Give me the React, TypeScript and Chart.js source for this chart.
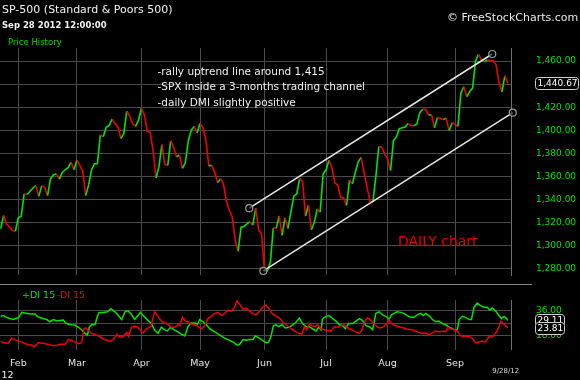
import React, { useEffect, useRef } from 'react';
import { Chart, registerables } from 'chart.js';

Chart.register(...registerables);

const FONT = '"DejaVu Sans", Verdana, sans-serif';
const UP = '#00e400';
const DOWN = '#f00000';
const GRID = '#4a4a4a';
const AXIS = '#707070';

// ---------- data ----------
const titleText = 'SP-500 (Standard & Poors 500)';
const dateText = 'Sep 28 2012 12:00:00';
const panelText = 'Price History';
const creditText = '\u00A9 FreeStockCharts.com';
const noteLines = [
  '-rally uptrend line around 1,415',
  '-SPX inside a 3-months trading channel',
  '-daily DMI slightly positive',
];
const chartTag = 'DAILY chart';
const lastDateLabel = '9/28/12';
const yearLabel = '12';

const monthLabels = ['Feb', 'Mar', 'Apr', 'May', 'Jun', 'Jul', 'Aug', 'Sep'];
const monthStartDay = [6, 26, 48, 68, 90, 111, 132, 155];

const priceTicks = [1280, 1300, 1320, 1340, 1360, 1380, 1400, 1420, 1440, 1460];
const dmiTicks = [18, 27, 36];

// daily closes, Jan 24 2012 .. Sep 28 2012 (index = trading day)
const closes = [
  1314.65, 1326.06, 1318.43, 1316.33, 1313.01, 1312.41,
  1324.09, 1325.54, 1344.90, 1344.33, 1347.05, 1349.96, 1351.95, 1342.64, 1351.77, 1350.50,
  1343.23, 1358.04, 1361.23, 1362.21, 1357.66, 1363.46, 1365.74, 1367.59, 1372.18, 1365.68,
  1374.09, 1369.63, 1364.33, 1343.36, 1352.63, 1365.91, 1370.87, 1371.09, 1395.95, 1394.28,
  1402.60, 1404.17, 1409.75, 1405.52, 1402.89, 1392.78, 1397.11, 1416.51, 1412.52, 1405.54,
  1403.28, 1408.47,
  1419.04, 1413.38, 1398.96, 1398.08, 1382.20, 1358.59, 1368.71, 1387.57, 1370.26, 1369.57,
  1390.78, 1385.14, 1376.92, 1378.53, 1366.94, 1371.97, 1390.69, 1399.98, 1403.36, 1397.91,
  1405.82, 1402.31, 1391.57, 1369.10, 1369.58, 1363.72, 1354.58, 1357.99, 1353.39, 1338.35,
  1330.66, 1324.80, 1304.86, 1295.22, 1315.99, 1316.63, 1318.86, 1320.68, 1317.82, 1332.42,
  1313.32, 1310.33,
  1278.04, 1278.18, 1285.50, 1315.13, 1314.99, 1325.66, 1308.93, 1324.18, 1314.88, 1329.10,
  1342.84, 1344.78, 1357.98, 1355.69, 1325.51, 1335.02, 1313.72, 1319.99, 1331.85, 1329.04,
  1362.16,
  1365.51, 1374.02, 1367.58, 1354.68, 1352.46, 1341.47, 1341.45, 1334.76, 1356.78, 1353.64,
  1363.67, 1372.78, 1376.51, 1362.66, 1350.52, 1338.31, 1337.89, 1360.02, 1385.97, 1385.30,
  1379.32,
  1375.32, 1365.00, 1390.99, 1394.23, 1401.35, 1402.22, 1402.80, 1405.87, 1404.11, 1403.93,
  1405.53, 1415.51, 1418.16, 1418.13, 1413.17, 1413.49, 1402.08, 1411.13, 1410.44, 1409.30,
  1410.49, 1399.48, 1406.58,
  1404.94, 1403.44, 1432.12, 1437.92, 1429.08, 1433.56, 1436.56, 1459.99, 1465.77, 1461.19,
  1459.32, 1461.05, 1460.26, 1460.15, 1456.89, 1441.59, 1433.32, 1447.15, 1440.67,
];

const upperChannelDay = [84.8, 167.7];
const upperChannelValue = [1332.4, 1466.1];
const lowerChannelDay = [89.6, 174.7];
const lowerChannelValue = [1278.0, 1415.2];

const plusDay = [
  0, 0.9, 2.0, 3.2, 4.3, 5.4, 6.0, 7.2, 8.3, 10.0,
  11.7, 12.8, 14.5, 15.7, 16.8, 18.0, 19.1, 20.2, 21.4, 22.0,
  23.1, 24.2, 25.3, 26.5, 27.6, 28.8, 29.6, 30.2, 31.0, 32.2,
  33.0, 33.6, 35.0, 36.4, 37.6, 39.0, 40.1, 41.3, 42.4, 43.4,
  44.6, 45.7, 46.8, 47.7, 48.9, 50.3, 51.4, 52.5, 53.7, 54.8,
  55.9, 56.8, 58.0, 59.1, 60.5, 61.6, 62.8, 63.9, 65.0, 66.2,
  67.1, 67.9, 69.0, 70.2, 71.3, 73.0, 74.7, 76.4, 78.1, 79.3,
  80.7, 81.5, 82.7, 83.8, 84.9, 86.1, 86.9, 88.2, 89.4, 90.5,
  91.4, 92.2, 93.0, 93.9, 94.8, 96.0, 97.1, 98.5, 99.6, 100.7,
  101.9, 103.0, 104.2, 105.3, 106.4, 107.6, 108.5, 109.3, 109.8, 111.0,
  112.1, 113.3, 114.4, 115.5, 116.7, 117.6, 118.7, 120.1, 121.2, 122.4,
  123.5, 124.6, 125.8, 126.9, 128.0, 129.2, 130.3, 131.9, 132.5, 133.3,
  134.2, 135.3, 136.5, 137.6, 138.7, 139.9, 141.0, 142.1, 143.3, 144.2,
  145.0, 146.1, 147.3, 148.4, 149.5, 150.7, 151.8, 153.0, 154.1, 155.2,
  155.8, 156.4, 157.5, 158.6, 159.8, 160.6, 161.5, 162.6, 163.7, 164.9,
  166.0, 166.9, 167.7, 168.9, 170.0, 170.8, 171.7, 172.6, 173,
];
const plusDI = [
  32.0, 32.6, 31.3, 30.4, 29.7, 30.8, 30.8, 34.9, 34.4, 33.8,
  33.8, 31.5, 30.4, 29.7, 28.1, 29.7, 28.6, 29.0, 29.3, 27.5,
  26.3, 25.9, 25.7, 24.1, 22.3, 19.6, 18.5, 24.1, 25.9, 26.3,
  32.0, 34.9, 34.9, 35.3, 37.6, 35.3, 32.6, 29.7, 35.3, 36.0,
  33.5, 29.7, 32.6, 34.9, 32.0, 29.0, 26.8, 21.8, 19.6, 24.1,
  22.3, 21.4, 24.1, 22.3, 20.7, 19.1, 17.8, 24.5, 27.2, 27.2,
  26.3, 29.7, 28.1, 25.9, 23.0, 20.7, 18.5, 16.2, 14.6, 13.3,
  11.0, 11.7, 15.1, 14.6, 15.1, 15.1, 17.8, 16.2, 14.6, 12.8,
  13.3, 17.3, 25.2, 25.9, 24.5, 25.9, 23.6, 24.1, 25.9, 27.5,
  30.8, 26.8, 24.5, 24.5, 23.0, 21.4, 24.1, 22.3, 30.4, 32.0,
  32.6, 30.4, 28.6, 25.9, 25.2, 23.0, 26.8, 26.8, 28.6, 30.4,
  29.0, 25.2, 24.5, 22.3, 34.2, 35.3, 33.0, 31.3, 29.7, 33.1,
  34.2, 35.3, 34.9, 34.2, 32.6, 31.3, 31.3, 33.1, 34.2, 32.6,
  34.2, 32.6, 29.7, 28.1, 28.6, 26.8, 25.9, 24.1, 23.0, 21.8,
  22.3, 29.7, 32.0, 31.3, 29.7, 29.7, 38.7, 41.6, 39.8, 38.7,
  38.7, 36.5, 38.0, 35.8, 32.6, 30.4, 32.0, 30.4, 29.11,
];

const minusDay = [
  0, 0.9, 2.6, 3.7, 4.9, 6.0, 7.2, 8.9, 10.6, 11.7,
  12.8, 14.5, 16.3, 18.0, 19.1, 20.2, 22.0, 23.1, 24.2, 25.3,
  26.5, 27.6, 28.4, 29.1, 29.9, 31.0, 32.7, 33.9, 35.0, 36.2,
  37.3, 38.4, 39.6, 40.7, 41.8, 43.0, 43.6, 44.6, 45.7, 46.8,
  48.5, 49.7, 51.2, 52.5, 53.7, 54.8, 55.9, 57.1, 58.2, 59.4,
  60.3, 61.1, 62.0, 63.0, 63.9, 65.0, 66.2, 67.3, 68.5, 69.6,
  70.7, 71.9, 73.0, 74.1, 75.3, 76.4, 77.5, 78.7, 79.8, 80.6,
  81.5, 82.7, 83.8, 84.9, 86.4, 87.1, 88.2, 89.4, 90.5, 91.6,
  92.8, 93.9, 95.1, 96.2, 97.3, 98.5, 99.6, 100.7, 101.9, 102.8,
  103.6, 104.4, 105.3, 106.2, 107.3, 108.1, 109.3, 110.4, 111.6, 112.7,
  113.8, 115.0, 116.1, 117.2, 118.0, 118.9, 120.1, 121.2, 122.4, 123.3,
  124.1, 124.9, 125.8, 126.9, 128.0, 129.2, 130.3, 131.9, 132.5, 133.3,
  134.7, 136.5, 137.6, 138.7, 140.4, 142.1, 143.8, 145.0, 146.1, 147.3,
  148.4, 149.5, 150.7, 151.8, 152.6, 153.5, 154.7, 155.8, 156.9, 158.1,
  159.8, 160.9, 162.0, 163.2, 164.3, 165.4, 166.6, 167.7, 168.9, 170.0,
  170.6, 171.5, 172.6, 173,
];
const minusDI = [
  14.0, 12.8, 12.4, 16.2, 15.1, 14.0, 13.3, 11.7, 11.0, 10.1,
  12.8, 12.4, 11.5, 10.6, 11.0, 11.7, 11.7, 15.1, 14.6, 13.3,
  12.1, 12.8, 23.0, 23.6, 21.8, 19.6, 18.5, 17.3, 15.5, 14.6,
  14.0, 15.1, 18.9, 16.9, 17.3, 20.3, 17.5, 24.1, 25.0, 24.1,
  20.0, 23.0, 24.5, 35.3, 32.0, 28.6, 27.2, 26.3, 24.1, 24.1,
  25.9, 25.2, 31.3, 28.6, 28.1, 26.3, 25.9, 24.8, 23.0, 25.2,
  30.4, 32.0, 34.2, 34.9, 32.6, 34.2, 36.5, 35.8, 38.7, 43.2,
  41.0, 37.1, 38.0, 35.8, 33.5, 33.1, 35.3, 38.7, 40.3, 37.6,
  33.5, 32.6, 30.8, 28.1, 25.9, 24.1, 22.3, 20.7, 19.6, 19.1,
  24.5, 22.3, 26.3, 25.2, 24.5, 25.9, 23.0, 22.3, 21.8, 21.4,
  24.5, 24.1, 25.2, 25.9, 24.1, 23.0, 21.8, 20.7, 19.6, 22.3,
  27.5, 30.8, 30.4, 27.5, 25.2, 23.6, 24.1, 26.8, 29.7, 26.8,
  25.2, 24.1, 23.6, 22.7, 22.3, 20.7, 19.6, 20.0, 18.5, 20.0,
  21.4, 20.7, 21.4, 20.7, 24.1, 23.0, 22.3, 21.4, 17.8, 17.3,
  17.3, 16.2, 12.8, 13.3, 14.0, 13.3, 17.3, 16.9, 20.0, 24.1,
  28.6, 26.8, 24.5, 23.81,
];

// ---------- helpers ----------
const X_MIN = -0.24;
const X_MAX = 174.1;

const fmtPrice = (v: number) =>
  Number(v).toLocaleString('en-US', { minimumFractionDigits: 2, maximumFractionDigits: 2 });

const pairs = (xs: number[], ys: number[]) => xs.map((x, i) => ({ x, y: ys[i] }));

const dirColor = (ctx: any) => (ctx.p1.parsed.y >= ctx.p0.parsed.y ? UP : DOWN);

function valueBox(ctx: CanvasRenderingContext2D, x: number, y: number, w: number, text: string) {
  const h = 12;
  const top = Math.round(y - h / 2) + 0.5;
  ctx.beginPath();
  (ctx as any).roundRect(x + 0.5, top, w, h, 3);
  ctx.fillStyle = '#000';
  ctx.fill();
  ctx.strokeStyle = '#cfcfcf';
  ctx.lineWidth = 1;
  ctx.stroke();
  ctx.fillStyle = '#ffffff';
  ctx.font = `9px ${FONT}`;
  ctx.textBaseline = 'middle';
  ctx.textAlign = 'left';
  ctx.fillText(text, x + 2.5, top + h / 2 + 0.5);
}

const priceDecor = {
  id: 'priceDecor',
  afterDraw(chart: any) {
    const { ctx, scales } = chart;
    ctx.save();
    ctx.textAlign = 'left';
    ctx.textBaseline = 'alphabetic';

    ctx.fillStyle = '#f2f2f2';
    ctx.font = `11px ${FONT}`;
    ctx.fillText(titleText, 2, 12.5);
    ctx.font = `bold 8.5px ${FONT}`;
    ctx.fillText(dateText, 2, 28.3);
    ctx.font = `11px ${FONT}`;
    ctx.fillStyle = '#e8e8e8';
    ctx.fillText(creditText, 447, 20.5);
    ctx.fillStyle = '#00dd00';
    ctx.font = `8.5px ${FONT}`;
    ctx.fillText(panelText, 8, 44.8);

    ctx.fillStyle = '#f0f0f0';
    ctx.font = `10.5px ${FONT}`;
    const baselines = [75, 90.3, 105.5];
    noteLines.forEach((t, i) => ctx.fillText(t, 157.5, baselines[i]));

    ctx.fillStyle = '#e80000';
    ctx.font = `14px ${FONT}`;
    ctx.fillText(chartTag, 398, 245.5);

    // separator between the two panels
    ctx.strokeStyle = '#858585';
    ctx.lineWidth = 1;
    ctx.beginPath();
    ctx.moveTo(0, 284.5);
    ctx.lineTo(532, 284.5);
    ctx.stroke();

    const last = closes[closes.length - 1];
    valueBox(ctx, 535, scales.y.getPixelForValue(last), 43, fmtPrice(last));
    ctx.restore();
  },
};

const dmiDecor = {
  id: 'dmiDecor',
  afterDraw(chart: any) {
    const { ctx, scales } = chart;
    ctx.save();
    ctx.textAlign = 'left';
    ctx.textBaseline = 'alphabetic';
    ctx.font = `9.5px ${FONT}`;
    ctx.fillStyle = UP;
    ctx.fillText('+DI 15', 22, 297.5);
    ctx.fillStyle = DOWN;
    ctx.fillText('-DI 15', 56.5, 297.5);

    ctx.fillStyle = '#d8d8d8';
    ctx.font = `7px ${FONT}`;
    ctx.textAlign = 'center';
    ctx.fillText(lastDateLabel, scales.x.getPixelForValue(closes.length - 1) - 2, 372.5);
    ctx.textAlign = 'left';
    ctx.fillStyle = '#f0f0f0';
    ctx.font = `9.5px ${FONT}`;
    ctx.fillText(yearLabel, 1.5, 378);

    const p = plusDI[plusDI.length - 1];
    const m = minusDI[minusDI.length - 1];
    valueBox(ctx, 535, scales.y.getPixelForValue(p), 29, p.toFixed(2));
    valueBox(ctx, 535, scales.y.getPixelForValue(m), 29, m.toFixed(2));
    ctx.restore();
  },
};

const xScaleBase = (showLabels: boolean, height: number) => ({
  type: 'linear' as const,
  min: X_MIN,
  max: X_MAX,
  bounds: 'data' as const,
  grid: { color: GRID, drawTicks: false, lineWidth: 1 },
  border: { display: false },
  ticks: {
    display: showLabels,
    autoSkip: false,
    maxRotation: 0,
    color: '#e6e6e6',
    padding: 8,
    font: { family: FONT, size: 9.5 },
    callback: (_v: any, i: number) => monthLabels[i],
  },
  afterBuildTicks: (s: any) => {
    s.ticks = monthStartDay.map((v) => ({ value: v }));
  },
  afterFit: (s: any) => {
    s.height = height;
  },
});

export default function App() {
  const priceRef = useRef<HTMLCanvasElement>(null);
  const dmiRef = useRef<HTMLCanvasElement>(null);

  useEffect(() => {
    const priceChart = new Chart(priceRef.current as HTMLCanvasElement, {
      type: 'line',
      data: {
        datasets: [
          {
            data: pairs(closes.map((_, i) => i), closes),
            borderWidth: 1.6,
            borderColor: UP,
            segment: { borderColor: dirColor },
            pointRadius: 0,
            tension: 0,
            order: 2,
          },
          {
            data: pairs(upperChannelDay, upperChannelValue),
            borderColor: '#e6e6e6',
            borderWidth: 1.5,
            pointRadius: 3.5,
            pointBorderWidth: 1.2,
            pointBorderColor: '#9a9a9a',
            pointBackgroundColor: 'rgba(0,0,0,0.6)',
            tension: 0,
            clip: false as any,
            order: 1,
          },
          {
            data: pairs(lowerChannelDay, lowerChannelValue),
            borderColor: '#e6e6e6',
            borderWidth: 1.5,
            pointRadius: 3.5,
            pointBorderWidth: 1.2,
            pointBorderColor: '#9a9a9a',
            pointBackgroundColor: 'rgba(0,0,0,0.6)',
            tension: 0,
            clip: false as any,
            order: 1,
          },
        ],
      },
      options: {
        animation: false,
        responsive: false,
        devicePixelRatio: 1,
        events: [],
        layout: { autoPadding: false, padding: { top: 48, left: 0, right: 0, bottom: 105 } },
        plugins: { legend: { display: false }, tooltip: { enabled: false }, title: { display: false } },
        scales: {
          x: xScaleBase(false, 0) as any,
          y: {
            type: 'linear',
            position: 'right',
            min: 1274.5,
            max: 1471.3,
            bounds: 'data',
            grid: { color: GRID, drawTicks: false },
            border: { display: true, color: AXIS },
            ticks: {
              color: UP,
              padding: 25,
              font: { family: FONT, size: 9 },
              callback: (v: any) => fmtPrice(Number(v)),
            },
            afterBuildTicks: (s: any) => {
              s.ticks = priceTicks.map((v) => ({ value: v }));
            },
            afterFit: (s: any) => {
              s.width = 69;
            },
          } as any,
        },
      },
      plugins: [priceDecor],
    });

    const dmiChart = new Chart(dmiRef.current as HTMLCanvasElement, {
      type: 'line',
      data: {
        datasets: [
          {
            data: pairs(minusDay, minusDI),
            borderColor: DOWN,
            borderWidth: 1.5,
            pointRadius: 0,
            tension: 0,
          },
          {
            data: pairs(plusDay, plusDI),
            borderColor: UP,
            borderWidth: 1.5,
            pointRadius: 0,
            tension: 0,
          },
        ],
      },
      options: {
        animation: false,
        responsive: false,
        devicePixelRatio: 1,
        events: [],
        layout: { autoPadding: false, padding: { top: 300, left: 0, right: 0, bottom: 0 } },
        plugins: { legend: { display: false }, tooltip: { enabled: false }, title: { display: false } },
        scales: {
          x: xScaleBase(true, 27) as any,
          y: {
            type: 'linear',
            position: 'right',
            min: 7.85,
            max: 43.9,
            bounds: 'data',
            grid: { color: GRID, drawTicks: false },
            border: { display: true, color: AXIS },
            ticks: {
              color: UP,
              padding: 25,
              font: { family: FONT, size: 9 },
              callback: (v: any) => Number(v).toFixed(2),
            },
            afterBuildTicks: (s: any) => {
              s.ticks = dmiTicks.map((v) => ({ value: v }));
            },
            afterFit: (s: any) => {
              s.width = 69;
            },
          } as any,
        },
      },
      plugins: [dmiDecor],
    });

    return () => {
      priceChart.destroy();
      dmiChart.destroy();
    };
  }, []);

  return (
    <div
      style={{
        position: 'fixed',
        left: 0,
        top: 0,
        width: 580,
        height: 380,
        background: '#000',
        overflow: 'hidden',
      }}
    >
      <canvas ref={priceRef} width={580} height={380} style={{ position: 'absolute', left: 0, top: 0 }} />
      <canvas ref={dmiRef} width={580} height={380} style={{ position: 'absolute', left: 0, top: 0 }} />
    </div>
  );
}
